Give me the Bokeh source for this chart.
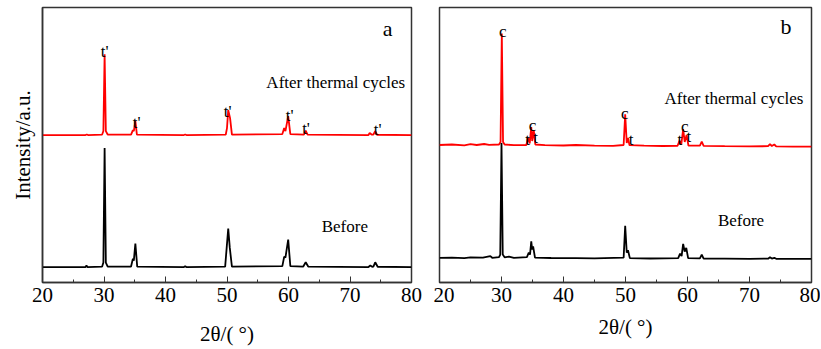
from bokeh.plotting import figure
from bokeh.models import Range1d, SingleIntervalTicker, FixedTicker, Label
from bokeh.layouts import row
from bokeh.embed import file_html
from bokeh.resources import INLINE

# ---------------- data (2theta in degrees, intensity in arbitrary units) ----------------
a_after_x = [20, 27.0, 27.2, 27.4, 29.7, 29.9, 30.1, 30.3, 30.6, 34.4, 34.7, 34.85, 35.1, 35.35,
             43.0, 43.2, 43.4, 49.8, 50.0, 50.2, 50.5, 50.8, 59.0, 59.3, 59.5, 59.95, 60.3,
             62.5, 62.8, 63.1, 73.0, 73.2, 73.5, 73.8, 74.1, 74.4, 80]
a_after_y = [148, 148, 148.6, 148, 148.5, 152, 229, 152, 148.5, 148.5, 153, 152, 162, 148.5,
             148, 148.5, 148, 148.5, 155, 173, 165, 148.5, 149, 155, 152, 167, 149,
             148.5, 152.3, 148.5, 148, 150, 148.5, 148.5, 152, 148.3, 148]

a_before_x = [20, 27.0, 27.15, 27.3, 29.7, 29.9, 30.1, 30.3, 30.6, 34.4, 34.7, 34.85, 35.1, 35.4,
              43.0, 43.2, 43.4, 49.7, 49.95, 50.2, 50.45, 50.8, 59.0, 59.3, 59.5, 59.95, 60.3,
              62.4, 62.8, 63.2, 73.0, 73.3, 73.6, 73.8, 74.1, 74.5, 80]
a_before_y = [15.5, 15.5, 17, 15.5, 16, 20, 135, 20, 16, 16, 24, 22, 39, 16,
              15.5, 16.3, 15.5, 16, 35, 54, 35, 16, 16.5, 26, 25, 43, 16.5,
              16, 20.3, 16, 15.5, 17, 15.8, 16, 20.3, 15.8, 15.5]

b_after_x = [20, 22, 24, 25, 26, 27.2, 28, 29.6, 29.85, 30.05, 30.25, 30.5, 32, 34.0, 34.3, 34.55,
             34.8, 34.95, 35.2, 35.45, 37, 40, 42, 45, 48, 49.7, 49.95, 50.2, 50.4, 50.65, 53, 56,
             58.4, 58.7, 59.0, 59.3, 59.55, 59.85, 60.15, 62.0, 62.3, 62.6, 66, 70, 73.0, 73.3,
             73.6, 74.0, 74.3, 77, 80]
b_after_y = [138, 138.5, 137.6, 138.8, 138, 139, 138.2, 138.5, 141, 250, 141, 138.5, 137.8, 138, 145, 139.5,
             156, 142, 153, 138.5, 137.8, 137.5, 138, 137.3, 137.2, 138, 168.7, 140, 145, 137.8, 137.3, 137,
             137.2, 142.3, 138.5, 154, 141, 148, 137.5, 137.3, 141.3, 137.2, 136.8, 136.6, 136.8, 138.8,
             137, 138.5, 136.6, 136.4, 136.3]

b_before_x = [20, 22, 24, 25, 27, 28.2, 28.5, 29.6, 29.8, 30.0, 30.2, 30.5, 31.2, 32, 34.1, 34.4, 34.6,
              34.8, 34.95, 35.1, 35.4, 38, 42, 45, 49.7, 49.95, 50.2, 50.4, 50.7, 54, 58.5, 58.8,
              59.05, 59.3, 59.55, 59.8, 60.1, 62.0, 62.3, 62.6, 66, 70, 73.0, 73.3, 73.6, 74, 74.3, 80]
b_before_y = [24.7, 25, 24.5, 25.3, 25, 26.5, 24.8, 25.5, 28, 140, 28, 25.3, 26, 24.8, 25.5, 30, 28,
              41.3, 33, 36.3, 25, 24.6, 24.4, 24.2, 25, 57, 30, 32.3, 24.5, 24.1, 24.5, 29,
              26.5, 38.7, 31, 34.7, 24.5, 24.2, 28, 24, 23.9, 23.8, 23.9, 25.3, 24, 24.8, 23.8, 23.7]

x_ticks_interval = 10
x_title = "2θ/( °)"
y_title = "Intensity/a.u."

# peak annotations: (text, x, y)
a_peak_labels = [("t'", 30.1, 232), ("t'", 35.3, 161), ("t'", 50.1, 172),
                 ("t'", 60.2, 168), ("t'", 62.85, 155), ("t'", 74.5, 154)]
b_peak_labels = [("c", 30.2, 252), ("t", 34.2, 144), ("c", 35.0, 158), ("t", 35.5, 146),
                 ("c", 49.9, 170), ("t", 50.9, 144), ("t", 58.75, 144), ("c", 59.55, 157),
                 ("t", 60.2, 147)]

FONT = "Liberation Serif"
RED = "#ff0000"
FRAME = "#333333"
H = 348
TOP = 7
FH = 276


def make_fig(width, mbl, mbr, xstandoff, ylabel=None):
    p = figure(width=width, height=H, x_range=Range1d(20, 80), y_range=Range1d(0, FH),
               y_axis_location="left" if ylabel else None,
               output_backend="svg", toolbar_location=None,
               min_border_left=mbl, min_border_right=mbr, min_border_top=TOP,
               min_border_bottom=H - TOP - FH)
    p.grid.visible = False
    p.outline_line_color = FRAME
    p.outline_line_width = 1.5
    p.outline_line_alpha = 1
    ax = p.xaxis[0]
    ax.ticker = SingleIntervalTicker(interval=x_ticks_interval, num_minor_ticks=2)
    ax.axis_line_color = FRAME
    ax.axis_line_width = 1.5
    ax.major_tick_in = 6
    ax.major_tick_out = 0
    ax.minor_tick_in = 3
    ax.minor_tick_out = 0
    ax.major_tick_line_color = FRAME
    ax.minor_tick_line_color = FRAME
    ax.major_label_text_font = FONT
    ax.major_label_text_font_size = "21px"
    ax.major_label_text_color = "black"
    ax.major_label_standoff = 5
    ax.axis_label = x_title
    ax.axis_label_text_font = FONT
    ax.axis_label_text_font_size = "21px"
    ax.axis_label_text_font_style = "normal"
    ax.axis_label_text_color = "black"
    ax.axis_label_standoff = xstandoff
    if ylabel:
        ya = p.yaxis[0]
        ya.ticker = FixedTicker(ticks=[])
        ya.major_tick_in = 0
        ya.major_tick_out = 0
        ya.minor_tick_in = 0
        ya.minor_tick_out = 0
        ya.major_label_standoff = 0
        ya.axis_line_color = FRAME
        ya.axis_line_width = 1.5
        ya.axis_label = ylabel
        ya.axis_label_text_font = FONT
        ya.axis_label_text_font_size = "21px"
        ya.axis_label_text_font_style = "normal"
        ya.axis_label_text_color = "black"
        ya.axis_label_standoff = 8
    p.background_fill_color = "white"
    p.border_fill_color = "white"
    return p


def add_text(p, txt, x, y, size="17px", align="center", baseline="alphabetic"):
    p.add_layout(Label(x=x, y=y, text=txt, text_font=FONT, text_font_size=size,
                       text_align=align, text_baseline=baseline, text_color="black"))


# ---------------- panel a ----------------
pa = make_fig(433, 42, 22, 17, ylabel=y_title)
pa.line(a_after_x, a_after_y, line_color=RED, line_width=1.8)
pa.line(a_before_x, a_before_y, line_color="black", line_width=1.8)
for t, x, y in a_peak_labels:
    add_text(pa, t, x, y)
add_text(pa, "After thermal cycles", 56.4, 201, align="left", baseline="middle")
add_text(pa, "Before", 65.4, 56, align="left", baseline="middle")
add_text(pa, "a", 76.1, 255, size="22px", baseline="middle")

# ---------------- panel b ----------------
pb = make_fig(387, 6, 9, 10)
pb.line(b_after_x, b_after_y, line_color=RED, line_width=1.8)
pb.line(b_before_x, b_before_y, line_color="black", line_width=1.8)
for t, x, y in b_peak_labels:
    add_text(pb, t, x, y)
add_text(pb, "After thermal cycles", 56.3, 185, align="left", baseline="middle")
add_text(pb, "Before", 64.9, 62, align="left", baseline="middle")
add_text(pb, "b", 75.9, 257, size="22px", baseline="middle")

layout = row(pa, pb)
open("out.html", "w").write(file_html(layout, INLINE))
